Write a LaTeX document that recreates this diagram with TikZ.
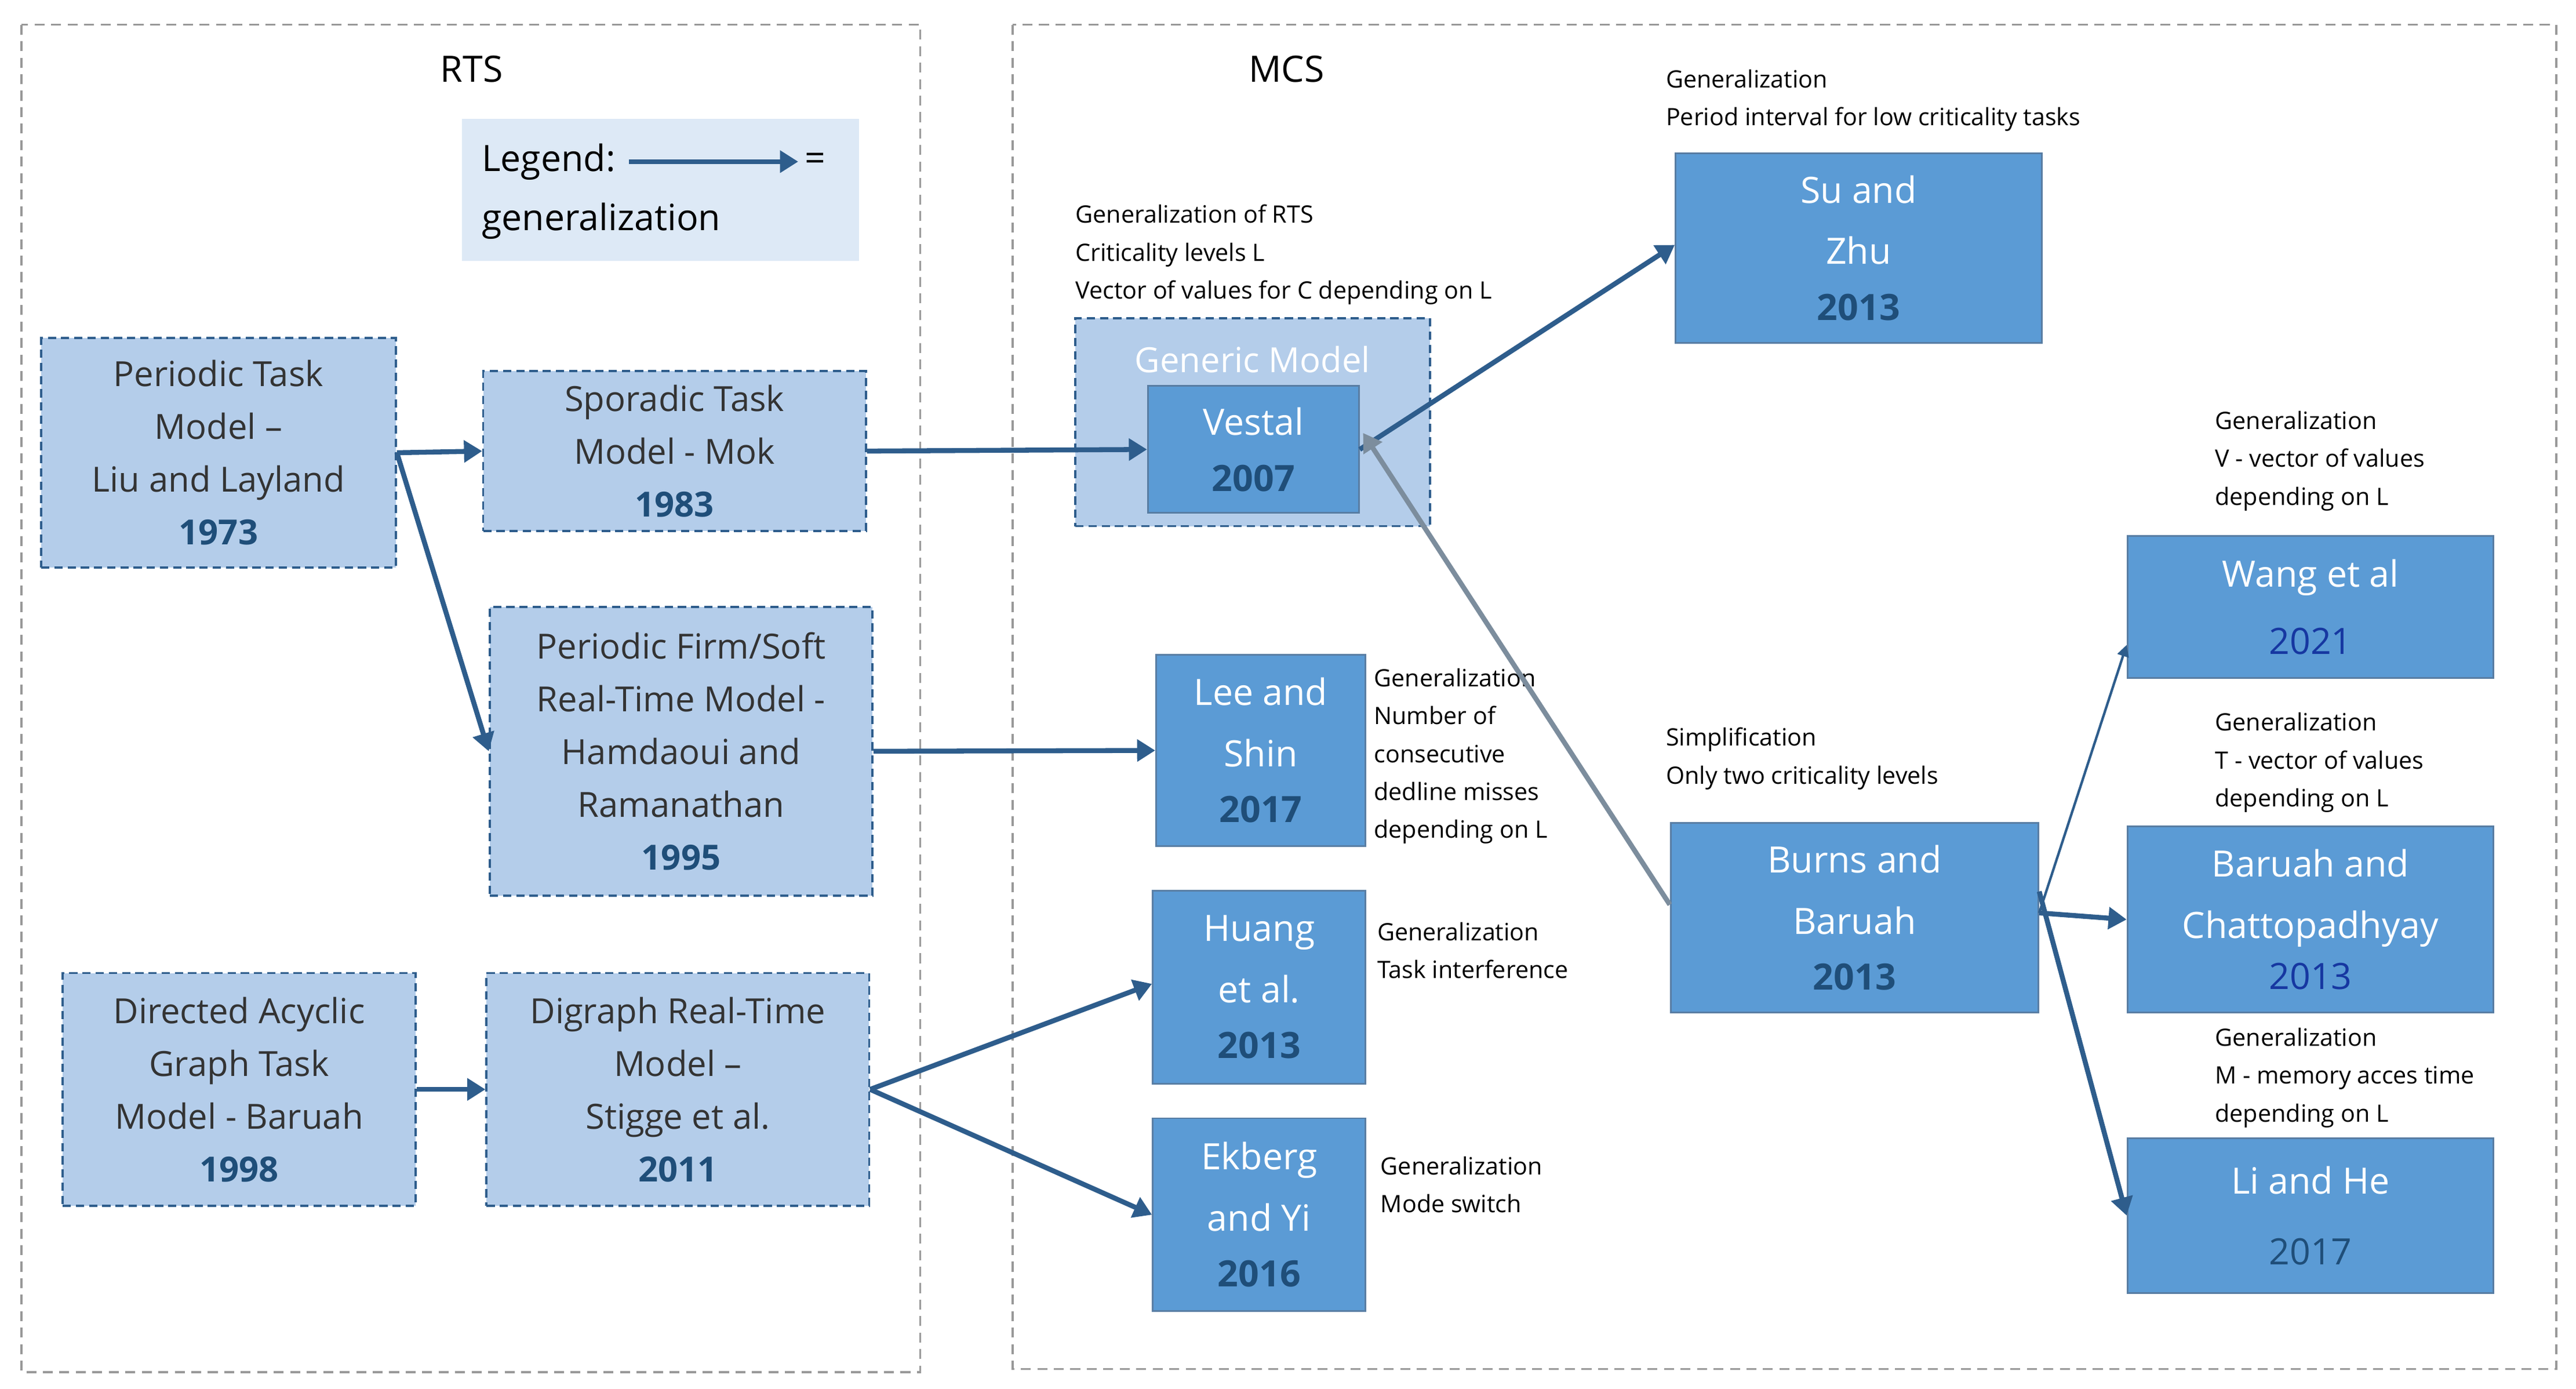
\documentclass[tikz,border=0pt]{standalone}
\usepackage{fontspec}
\setmainfont{Open Sans}
\usetikzlibrary{arrows.meta}
\definecolor{lb}{HTML}{B4CDEA}
\definecolor{mb}{HTML}{5B9BD5}
\definecolor{db}{HTML}{2E5D8C}
\definecolor{yr}{HTML}{1F4E79}
\definecolor{leg}{HTML}{DDE9F6}
\begin{document}
\begin{tikzpicture}[x=1pt,y=-1pt,
 frame/.style={draw=gray!80, dashed, line width=1.2pt, dash pattern=on 6pt off 4pt},
 lbox/.style={draw=db, fill=lb, dashed, line width=1.3pt, dash pattern=on 5pt off 3pt, align=center, text=black!80, font=\fontsize{21}{32}\selectfont, inner sep=0pt},
 mbox/.style={draw=db!80, fill=mb, line width=1pt, align=center, text=white, font=\fontsize{22}{37}\selectfont, inner sep=0pt},
 ann/.style={anchor=north west, align=left, font=\fontsize{14.5}{23}\selectfont, inner sep=0pt},
 arr/.style={draw=db, line width=3pt, -{Triangle[length=11pt,width=13pt]}},
 yrb/.style={}
]
\useasboundingbox (0,0) rectangle (1562,842);
\draw[frame] (13,15) rectangle (558,832);
\draw[frame] (614,15) rectangle (1550,830);
\node[font=\fontsize{22}{26}\selectfont] (rts) at (286,42) {RTS};
\node[font=\fontsize{22}{26}\selectfont] (mcs) at (780,42) {MCS};
% legend
\node[fill=leg, minimum width=241pt, minimum height=86pt] (legend) at (400.5,115) {};
\node[anchor=west, font=\fontsize{22}{26}\selectfont, inner sep=0pt] (lg1) at (292,98) {Legend:};
\node[anchor=west, font=\fontsize{22}{26}\selectfont, inner sep=0pt] (lgeq) at (488,98) {=};
\node[anchor=west, font=\fontsize{22}{26}\selectfont, inner sep=0pt] (lg2) at (292,134) {generalization};
\draw[arr] (lg1.east) ++(8pt,0) coordinate (la) -- ([xshift=-4pt]lgeq.west);
% RTS boxes
\node[lbox, minimum width=215pt, minimum height=139pt] (pt) at (132.5,274.5) {Periodic Task\\Model –\\Liu and Layland\\\textcolor{yr}{\bfseries 1973}};
\node[lbox, minimum width=232pt, minimum height=97pt] (sp) at (409,273.5) {Sporadic Task\\Model - Mok\\\textcolor{yr}{\bfseries 1983}};
\node[lbox, minimum width=232pt, minimum height=175pt] (pf) at (413,455.5) {Periodic Firm/Soft\\Real-Time Model -\\Hamdaoui and\\Ramanathan\\\textcolor{yr}{\bfseries 1995}};
\node[lbox, minimum width=214pt, minimum height=141pt] (dag) at (145,660.5) {Directed Acyclic\\Graph Task\\Model - Baruah\\\textcolor{yr}{\bfseries 1998}};
\node[lbox, minimum width=232pt, minimum height=141pt] (dg) at (411,660.5) {Digraph Real-Time\\Model –\\Stigge et al.\\\textcolor{yr}{\bfseries 2011}};
% MCS
\node[lbox, minimum width=215pt, minimum height=126pt] (gm) at (759.5,256) {};
\node[text=white, font=\fontsize{21}{26}\selectfont] (gmt) at (759.5,218) {Generic Model};
\node[mbox, minimum width=128pt, minimum height=77pt] (ve) at (760,272.5) {Vestal\\[-3pt]\textcolor{yr}{\bfseries 2007}};
\node[mbox, minimum width=222pt, minimum height=115pt] (su) at (1127,150.5) {Su and\\Zhu\\[-3pt]\textcolor{yr}{\bfseries 2013}};
\node[mbox, minimum width=127pt, minimum height=116pt] (le) at (764.5,455) {Lee and\\Shin\\[-3pt]\textcolor{yr}{\bfseries 2017}};
\node[mbox, minimum width=129pt, minimum height=117pt] (hu) at (763.5,598.5) {Huang\\et al.\\[-3pt]\textcolor{yr}{\bfseries 2013}};
\node[mbox, minimum width=129pt, minimum height=117pt] (ek) at (763.5,736.5) {Ekberg\\and Yi\\[-3pt]\textcolor{yr}{\bfseries 2016}};
\node[mbox, minimum width=223pt, minimum height=115pt] (bb) at (1124.5,556.5) {Burns and\\Baruah\\[-3pt]\textcolor{yr}{\bfseries 2013}};
\node[mbox, minimum width=222pt, minimum height=86pt] (wa) at (1401,368) {Wang et al\\[4pt]\textcolor{yr!70!blue}{2021}};
\node[mbox, minimum width=222pt, minimum height=113pt] (bc) at (1401,557.5) {Baruah and\\Chattopadhyay\\[-6pt]\textcolor{yr!70!blue}{2013}};
\node[mbox, minimum width=222pt, minimum height=94pt] (li) at (1401,737) {Li and He\\[6pt]\textcolor{yr}{2017}};
% annotations
\node[ann] (a1) at (652,124) {Generalization of RTS\\Criticality levels L\\Vector of values for C depending on L};
\node[ann] (a2) at (1010,42) {Generalization\\Period interval for low criticality tasks};
\node[ann] (a3) at (833,405) {Generalization\\Number of\\consecutive\\dedline misses\\depending on L};
\node[ann] (a4) at (835,559) {Generalization\\Task interference};
\node[ann] (a5) at (837,701) {Generalization\\Mode switch};
\node[ann] (a6) at (1010,441) {Simplification\\Only two criticality levels};
\node[ann] (a7) at (1343,249) {Generalization\\V - vector of values\\depending on L};
\node[ann] (a8) at (1343,432) {Generalization\\T - vector of values\\depending on L};
\node[ann] (a9) at (1343,623) {Generalization\\M - memory acces time\\depending on L};
% arrows
\draw[arr] (pt.east) -- (sp.west);
\draw[arr] (pt.east) -- (pf.west);
\draw[arr] (sp.east) -- (ve.west);
\draw[arr] (pf.east) -- (le.west);
\draw[arr] (dag.east) -- (dg.west);
\draw[arr] (dg.east) -- ([yshift=2pt]hu.west);
\draw[arr] (dg.east) -- (ek.west);
\draw[arr] (ve.east) -- ([yshift=2pt]su.west);
\draw[arr, draw=db!45!gray!80] ([yshift=8pt]bb.west) -- ([xshift=2pt,yshift=10pt]ve.east);
\draw[arr] ([yshift=3pt]bb.east) -- (bc.west);
\draw[draw=db, line width=1.5pt, -{Triangle[length=7pt,width=7pt]}] ([yshift=3pt]bb.east) -- ([yshift=-23pt]wa.west);
\draw[arr] ([yshift=16pt]bb.east) -- (li.west);
\end{tikzpicture}
\end{document}
